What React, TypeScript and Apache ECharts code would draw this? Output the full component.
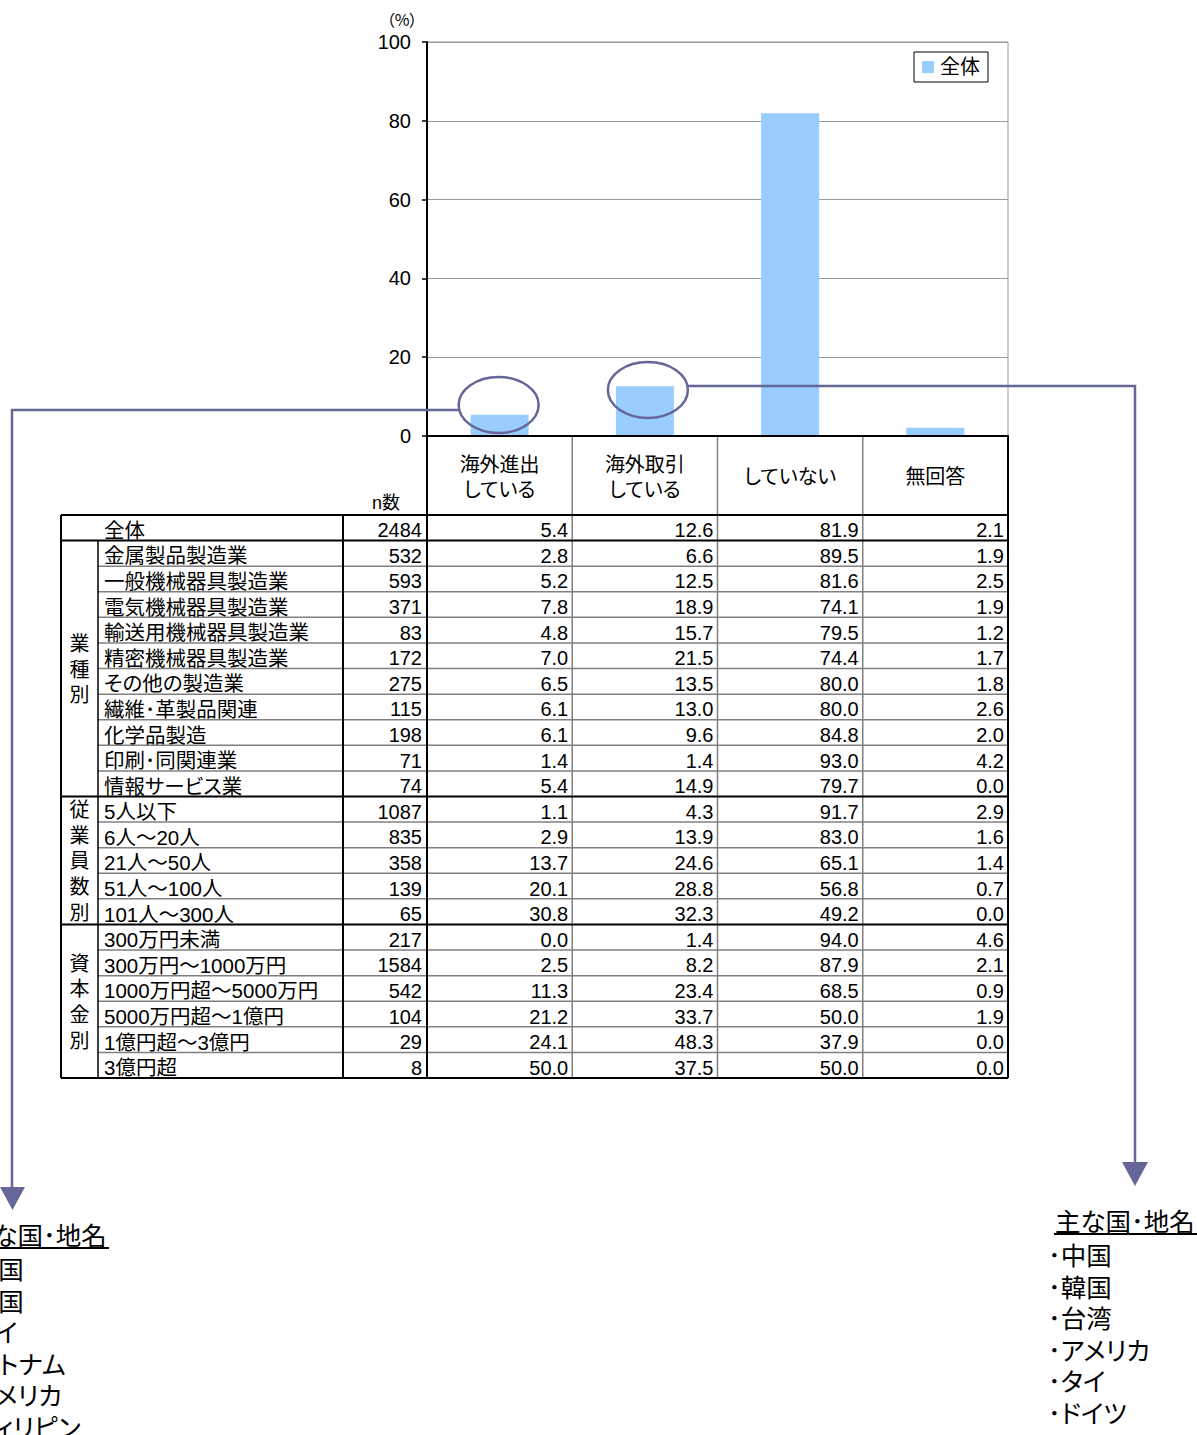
import React, { useEffect, useRef } from "react";
import * as echarts from "echarts";

// ---------- data ----------
const categories = ["海外進出\nしている", "海外取引\nしている", "していない", "無回答"];
const seriesName = "全体";
const yTicks = { min: 0, max: 100, interval: 20 };

const rowNames = [
  "全体",
  "金属製品製造業",
  "一般機械器具製造業",
  "電気機械器具製造業",
  "輸送用機械器具製造業",
  "精密機械器具製造業",
  "その他の製造業",
  "繊維･革製品関連",
  "化学品製造",
  "印刷･同関連業",
  "情報サービス業",
  "5人以下",
  "6人～20人",
  "21人～50人",
  "51人～100人",
  "101人～300人",
  "300万円未満",
  "300万円～1000万円",
  "1000万円超～5000万円",
  "5000万円超～1億円",
  "1億円超～3億円",
  "3億円超",
];
const nCounts = [2484, 532, 593, 371, 83, 172, 275, 115, 198, 71, 74, 1087, 835, 358, 139, 65, 217, 1584, 542, 104, 29, 8];
const overseasExpansion = [5.4, 2.8, 5.2, 7.8, 4.8, 7.0, 6.5, 6.1, 6.1, 1.4, 5.4, 1.1, 2.9, 13.7, 20.1, 30.8, 0.0, 2.5, 11.3, 21.2, 24.1, 50.0];
const overseasTrade = [12.6, 6.6, 12.5, 18.9, 15.7, 21.5, 13.5, 13.0, 9.6, 1.4, 14.9, 4.3, 13.9, 24.6, 28.8, 32.3, 1.4, 8.2, 23.4, 33.7, 48.3, 37.5];
const notDoing = [81.9, 89.5, 81.6, 74.1, 79.5, 74.4, 80.0, 80.0, 84.8, 93.0, 79.7, 91.7, 83.0, 65.1, 56.8, 49.2, 94.0, 87.9, 68.5, 50.0, 37.9, 50.0];
const noAnswer = [2.1, 1.9, 2.5, 1.9, 1.2, 1.7, 1.8, 2.6, 2.0, 4.2, 0.0, 2.9, 1.6, 1.4, 0.7, 0.0, 4.6, 2.1, 0.9, 1.9, 0.0, 0.0];
const valueColumns = [overseasExpansion, overseasTrade, notDoing, noAnswer];

const groups = [
  { label: "業種別", start: 1, end: 10 },
  { label: "従業員数別", start: 11, end: 15 },
  { label: "資本金別", start: 16, end: 21 },
];

const listTitle = "主な国･地名";
const leftCountries = ["中国", "韓国", "タイ", "ベトナム", "アメリカ", "フィリピン"];
const rightCountries = ["中国", "韓国", "台湾", "アメリカ", "タイ", "ドイツ"];

// ---------- layout ----------
const W = 1197;
const H = 1435;
const FONT = "'Liberation Sans', 'Noto Sans CJK JP', sans-serif";
const gridLeft = 427;
const gridTop = 42;
const gridW = 581;
const gridH = 394;
const axisY = gridTop + gridH;
const bandW = gridW / categories.length;
const tableTop = 515;
const tableBottom = 1078;
const rowH = (tableBottom - tableTop) / rowNames.length;
const xGroup = 61;
const xName = 98;
const xN = 343;
const xRight = gridLeft + gridW;
const BLACK = "#000";
const GRAY = "#808080";
const ACCENT = "#666699";

function buildGraphic() {
  const els: any[] = [];
  const line = (x1: number, y1: number, x2: number, y2: number, color: string, w: number, z = 50) =>
    els.push({ type: "line", shape: { x1, y1, x2, y2 }, style: { stroke: color, lineWidth: w }, z, silent: true });
  const text = (t: string, x: number, y: number, size: number, align: string, valign = "middle", z = 60, family = FONT) =>
    els.push({
      type: "text",
      x,
      y,
      z,
      silent: true,
      style: {
        text: t,
        fill: "#000",
        fontSize: size,
        fontFamily: family,
        align,
        verticalAlign: valign,
        textAlign: align,
        textVerticalAlign: valign,
      },
    });

  const rowTop = (i: number) => tableTop + i * rowH;
  const rowMid = (i: number) => tableTop + (i + 0.5) * rowH;
  const colEdge = (k: number) => gridLeft + k * bandW;

  // gray lines first
  const groupStarts = groups.map((g) => g.start);
  for (let i = 1; i < rowNames.length; i++) {
    if (!groupStarts.includes(i)) line(xName, rowTop(i), xRight, rowTop(i), GRAY, 1.5, 50);
  }
  for (let k = 1; k < categories.length; k++) line(colEdge(k), axisY, colEdge(k), tableBottom, GRAY, 1.5, 50);

  // black lines
  line(xGroup, tableTop, xRight, tableTop, BLACK, 2, 55);
  line(gridLeft, axisY, xRight, axisY, BLACK, 2, 55);
  groupStarts.forEach((i) => line(xGroup, rowTop(i), xRight, rowTop(i), BLACK, 2, 55));
  line(xGroup, tableBottom, xRight, tableBottom, BLACK, 2, 55);
  line(xGroup, tableTop, xGroup, tableBottom, BLACK, 2, 55);
  line(xName, rowTop(1), xName, tableBottom, BLACK, 1.5, 55);
  line(xN, tableTop, xN, tableBottom, BLACK, 2, 55);
  line(gridLeft, axisY, gridLeft, tableBottom, BLACK, 2, 55);
  line(xRight, axisY, xRight, tableBottom, BLACK, 2, 55);

  // row texts
  rowNames.forEach((name, i) => {
    const y = rowMid(i) + 2.5;
    text(name, 104, y, 20.5, "left");
    text(String(nCounts[i]), gridLeft - 5, y, 20, "right");
    valueColumns.forEach((col, k) => {
      text(col[i].toFixed(1), colEdge(k + 1) - 4, y, 20, "right");
    });
  });

  // group labels (vertical)
  groups.forEach((g) => {
    const mid = (rowTop(g.start) + rowTop(g.end + 1)) / 2;
    const chars = Array.from(g.label);
    chars.forEach((c, j) => {
      text(c, (xGroup + xName) / 2, mid + (j - (chars.length - 1) / 2) * rowH + 1, 20, "center");
    });
  });

  // n数 & unit
  text("n数", 386, 503, 18, "center");
  text("（%）", 402, 19, 16, "center", "middle", 60, "'Noto Sans CJK JP', sans-serif");

  // ellipses around bars
  const c0 = gridLeft + 0.5 * bandW;
  const c1 = gridLeft + 1.5 * bandW;
  els.push({ type: "ellipse", shape: { cx: c0 - 1, cy: 405, rx: 40, ry: 28 }, style: { fill: "none", stroke: ACCENT, lineWidth: 2.5 }, z: 70, silent: true });
  els.push({ type: "ellipse", shape: { cx: c1 + 3, cy: 390, rx: 40, ry: 28 }, style: { fill: "none", stroke: ACCENT, lineWidth: 2.5 }, z: 70, silent: true });

  // connectors
  els.push({ type: "polyline", shape: { points: [[c0 - 41, 410], [12, 410], [12, 1190]] }, style: { stroke: ACCENT, lineWidth: 2.5, fill: "none" }, z: 70, silent: true });
  els.push({ type: "polygon", shape: { points: [[0, 1187], [25, 1187], [12.5, 1210]] }, style: { fill: ACCENT }, z: 70, silent: true });
  els.push({ type: "polyline", shape: { points: [[c1 + 43, 386], [1135, 386], [1135, 1164]] }, style: { stroke: ACCENT, lineWidth: 2.5, fill: "none" }, z: 70, silent: true });
  els.push({ type: "polygon", shape: { points: [[1122, 1162], [1148, 1162], [1135, 1186]] }, style: { fill: ACCENT }, z: 70, silent: true });

  // country lists
  const list = (x: number, titleY: number, items: string[], underlineTo: number) => {
    text(listTitle, x, titleY, 25.5, "left");
    line(x - 1, titleY + 12, underlineTo, titleY + 12, BLACK, 2, 60);
    items.forEach((it, j) => text("･" + it, x - 7, titleY + 34 + j * 31.5, 25.5, "left"));
  };
  list(-33, 1236, leftCountries, 109);
  list(1055, 1222, rightCountries, 1197);

  return els;
}

export default function App() {
  const ref = useRef<HTMLDivElement>(null);
  useEffect(() => {
    if (!ref.current) return;
    const chart = echarts.init(ref.current, null, { renderer: "svg", width: W, height: H });
    chart.setOption({
      animation: false,
      backgroundColor: "#fff",
      textStyle: { fontFamily: FONT },
      grid: { left: gridLeft, top: gridTop, width: gridW, height: gridH, show: true, borderColor: "#999", borderWidth: 1 },
      legend: {
        data: [seriesName],
        left: 914,
        top: 52,
        padding: [5, 8, 5, 8],
        borderColor: "#000",
        borderWidth: 1,
        backgroundColor: "#fff",
        icon: "rect",
        itemWidth: 12,
        itemHeight: 12,
        itemGap: 5,
        textStyle: { fontSize: 20, color: "#000", fontFamily: FONT, padding: [0, 0, 0, 1] },
      },
      xAxis: {
        type: "category",
        data: categories,
        axisLine: { lineStyle: { color: "#000", width: 2 } },
        axisTick: { show: false },
        axisLabel: { margin: 41, verticalAlign: "middle", fontSize: 20, lineHeight: 25, color: "#000", fontFamily: FONT, interval: 0 },
      },
      yAxis: {
        type: "value",
        min: yTicks.min,
        max: yTicks.max,
        interval: yTicks.interval,
        axisLine: { show: true, lineStyle: { color: "#000", width: 2 } },
        axisTick: { show: true, length: 5, lineStyle: { color: "#000", width: 1.5 } },
        axisLabel: { fontSize: 20, color: "#000", margin: 16, fontFamily: FONT },
        splitLine: { lineStyle: { color: "#999", width: 1 } },
      },
      series: [
        {
          type: "bar",
          name: seriesName,
          data: valueColumns.map((c) => c[0]),
          barWidth: 58,
          itemStyle: { color: "#99ccff" },
        },
      ],
      graphic: buildGraphic(),
    });
    return () => chart.dispose();
  }, []);
  return (
    <>
      <style>{'svg text{font-feature-settings:"palt" 1 !important;}'}</style>
      <div ref={ref} style={{ position: "absolute", left: 0, top: 0, width: W, height: H }} />
    </>
  );
}
